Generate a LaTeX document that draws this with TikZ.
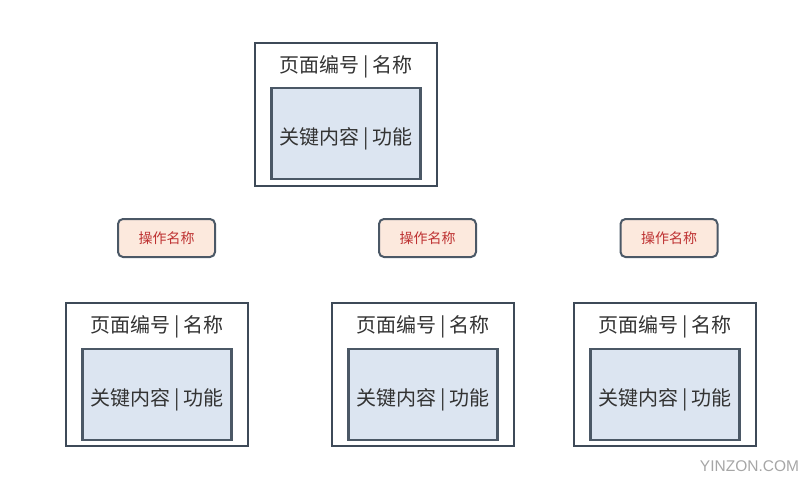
\documentclass[tikz,border=0pt]{standalone}
\usepackage{fontspec}
\newfontfamily\cjk{Noto Sans CJK SC}
\newfontfamily\wmfont{Liberation Sans}
\definecolor{colframe}{RGB}{62,74,88}
\definecolor{colinner}{RGB}{220,229,241}
\definecolor{colinnerline}{RGB}{75,88,102}
\definecolor{colaction}{RGB}{252,233,221}
\definecolor{colactiontext}{RGB}{190,50,50}
\usetikzlibrary{
	positioning
}
\tikzset{
	pagebox/.style={draw=colframe, line width=1.8pt, fill=white, minimum width=182pt, minimum height=143pt, inner sep=0pt},
	contentbox/.style={draw=colinnerline, line width=2.2pt, fill=colinner, minimum width=149pt, minimum height=91pt, inner sep=0pt, text height=22pt, text depth=0pt, font=\cjk\fontsize{20}{24}\selectfont, text=black!80},
	pagetitle/.style={inner sep=0pt, font=\cjk\fontsize{20}{24}\selectfont, text=black!80},
	actionbox/.style={draw=colinnerline, line width=2pt, fill=colaction, rounded corners=5pt, minimum width=97pt, minimum height=38pt, inner sep=0pt, font=\cjk\fontsize{14}{16}\selectfont, text=colactiontext}
}
\begin{document}
\begin{tikzpicture}[x=1pt, y=-1pt]
	\useasboundingbox (0,0) rectangle (811,484);

	% page on top
	\node[pagebox] (top) at (346,114.5) {};
	\node[pagetitle] (toptitle) at ([yshift=-25pt]top.north) {页面编号\,|\,名称};
	\node[contentbox] (topcontent) [above=7pt of top.south] {关键内容\,|\,功能};

	% actions
	\node[actionbox] (act1) at (166.5,238) {操作名称};
	\node[actionbox] (act2) at (427.5,238) {操作名称};
	\node[actionbox] (act3) at (669,238) {操作名称};

	% pages below
	\node[pagebox] (left) at (157,374.5) {};
	\node[pagetitle] (lefttitle) at ([yshift=-25pt]left.north) {页面编号\,|\,名称};
	\node[contentbox] (leftcontent) [above=6pt of left.south] {关键内容\,|\,功能};

	\node[pagebox] (mid) at (423,374.5) {};
	\node[pagetitle] (midtitle) at ([yshift=-25pt]mid.north) {页面编号\,|\,名称};
	\node[contentbox] (midcontent) [above=6pt of mid.south] {关键内容\,|\,功能};

	\node[pagebox] (right) at (665,374.5) {};
	\node[pagetitle] (righttitle) at ([yshift=-25pt]right.north) {页面编号\,|\,名称};
	\node[contentbox] (rightcontent) [above=6pt of right.south] {关键内容\,|\,功能};

	\node[inner sep=0pt, font=\wmfont\fontsize{15.5}{18}\selectfont, text=black!35] (mark) at (749.5,466) {YINZON.COM};
\end{tikzpicture}
\end{document}
